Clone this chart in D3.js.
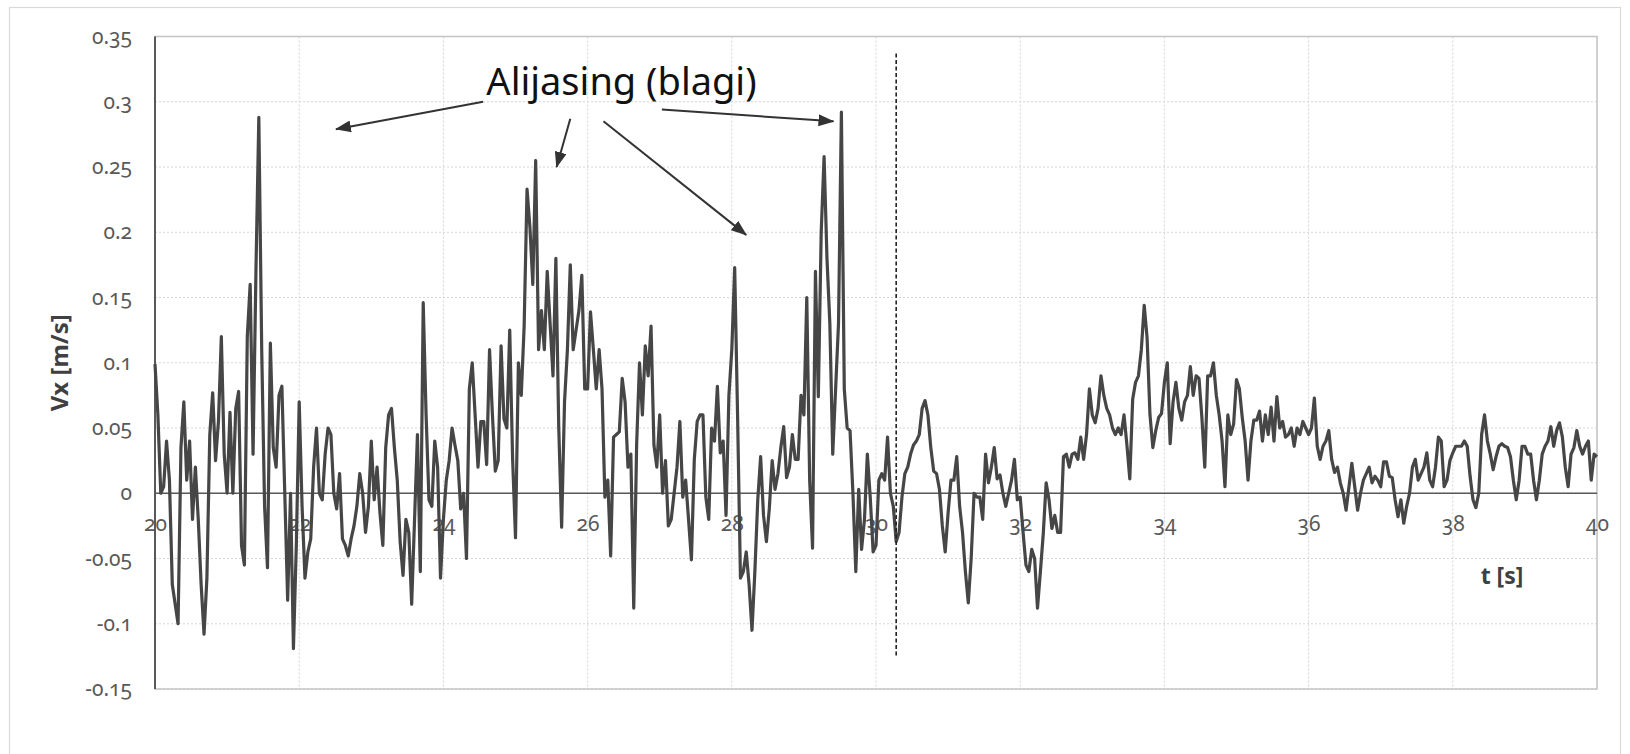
<!DOCTYPE html>
<html>
<head>
<meta charset="utf-8">
<script src="https://cdn.jsdelivr.net/npm/d3@7"></script>
<style>
  html, body { margin: 0; padding: 0; background: #fff; }
  svg text { font-family: "Noto Sans", "Open Sans", sans-serif; }
  .tick text { font-feature-settings: "onum"; }
</style>
</head>
<body>
<div id="chart"></div>
<script>
// sample step of the velocity record [s]
const dt = 0.04;

// Vx [m/s], one array per 2 s window
const vx20 = [0.099, 0.06, 0.0, 0.005, 0.04, 0.01, -0.07, -0.085, -0.1, 0.035,
  0.07, 0.01, 0.04, -0.02, 0.02, -0.02, -0.07, -0.108, -0.065, 0.045,
  0.077, 0.025, 0.055, 0.12, 0.03, 0.0, 0.062, 0.0, 0.065, 0.078,
  -0.04, -0.055, 0.12, 0.16, 0.03, 0.17, 0.288, 0.11, -0.01, -0.057,
  0.115, 0.035, 0.02, 0.075, 0.082, 0.0, -0.082, 0.0, -0.119, -0.04];
const vx22 = [0.07, -0.01, -0.065, -0.045, -0.035, 0.02, 0.05, 0.0, -0.005, 0.03,
  0.05, 0.045, 0.0, -0.012, 0.015, -0.035, -0.04, -0.048, -0.035, -0.025,
  -0.01, 0.015, 0.0, -0.03, -0.01, 0.04, -0.005, 0.02, -0.015, -0.04,
  0.035, 0.06, 0.065, 0.035, 0.01, -0.037, -0.063, -0.02, -0.03, -0.085,
  -0.02, 0.045, -0.06, 0.146, 0.06, -0.005, -0.01, 0.04, 0.02, -0.065];
const vx24 = [-0.02, 0.01, 0.025, 0.05, 0.037, 0.025, -0.012, 0.0, -0.05, 0.08,
  0.1, 0.06, 0.02, 0.055, 0.055, 0.022, 0.11, 0.06, 0.017, 0.025,
  0.113, 0.057, 0.05, 0.125, 0.026, -0.034, 0.1, 0.075, 0.128, 0.233,
  0.204, 0.16, 0.255, 0.11, 0.14, 0.11, 0.17, 0.13, 0.09, 0.18,
  0.05, -0.026, 0.07, 0.11, 0.175, 0.11, 0.125, 0.14, 0.167, 0.08];
const vx26 = [0.08, 0.139, 0.11, 0.08, 0.11, 0.08, -0.003, 0.01, -0.048, 0.043,
  0.045, 0.047, 0.088, 0.07, 0.02, 0.03, -0.088, 0.037, 0.1, 0.06,
  0.113, 0.09, 0.128, 0.037, 0.02, 0.06, 0.0, 0.025, -0.025, -0.02,
  0.0, 0.02, 0.055, -0.003, 0.01, -0.02, -0.051, 0.026, 0.055, 0.06,
  0.06, -0.003, -0.02, 0.05, 0.04, 0.082, 0.031, 0.04, -0.017, 0.075];
const vx28 = [0.11, 0.173, 0.06, -0.065, -0.06, -0.045, -0.07, -0.105, -0.06, -0.005,
  0.028, -0.017, -0.037, -0.012, 0.025, 0.003, 0.015, 0.035, 0.051, 0.012,
  0.02, 0.045, 0.026, 0.026, 0.075, 0.06, 0.15, 0.01, -0.042, 0.17,
  0.074, 0.2, 0.258, 0.18, 0.13, 0.03, 0.08, 0.13, 0.292, 0.08,
  0.05, 0.048, 0.0, -0.06, 0.003, -0.043, -0.02, 0.03, -0.003, -0.045];
const vx30 = [-0.04, 0.01, 0.015, 0.01, 0.043, 0.0, -0.01, -0.037, -0.03, -0.003,
  0.015, 0.02, 0.03, 0.037, 0.04, 0.045, 0.065, 0.071, 0.06, 0.035,
  0.017, 0.015, 0.003, -0.025, -0.045, -0.015, 0.01, 0.01, 0.028, -0.01,
  -0.03, -0.06, -0.084, -0.05, 0.0, -0.003, -0.003, -0.02, 0.03, 0.008,
  0.02, 0.035, 0.011, 0.014, 0.0, -0.01, 0.0, 0.01, 0.026, -0.005];
const vx32 = [-0.003, -0.03, -0.055, -0.06, -0.043, -0.05, -0.088, -0.06, -0.031, 0.008,
  -0.005, -0.027, -0.017, -0.03, -0.03, 0.028, 0.03, 0.02, 0.03, 0.031,
  0.026, 0.043, 0.026, 0.045, 0.08, 0.06, 0.054, 0.065, 0.09, 0.075,
  0.065, 0.06, 0.05, 0.045, 0.05, 0.045, 0.06, 0.037, 0.011, 0.072,
  0.085, 0.09, 0.11, 0.144, 0.119, 0.06, 0.035, 0.048, 0.058, 0.061];
const vx34 = [0.085, 0.1, 0.038, 0.07, 0.085, 0.065, 0.056, 0.07, 0.075, 0.097,
  0.075, 0.09, 0.088, 0.058, 0.02, 0.09, 0.09, 0.1, 0.075, 0.06,
  0.04, 0.005, 0.06, 0.045, 0.053, 0.087, 0.08, 0.058, 0.04, 0.01,
  0.04, 0.056, 0.056, 0.063, 0.04, 0.06, 0.045, 0.066, 0.04, 0.074,
  0.05, 0.055, 0.043, 0.045, 0.05, 0.036, 0.05, 0.045, 0.055, 0.05];
const vx36 = [0.045, 0.05, 0.073, 0.036, 0.026, 0.036, 0.04, 0.048, 0.026, 0.016,
  0.02, 0.008, 0.0, -0.013, 0.005, 0.023, 0.005, -0.013, 0.0, 0.01,
  0.015, 0.02, 0.008, 0.013, 0.01, 0.005, 0.024, 0.024, 0.013, 0.012,
  -0.005, -0.018, -0.005, -0.023, -0.01, 0.0, 0.02, 0.026, 0.01, 0.015,
  0.02, 0.031, 0.01, 0.005, 0.02, 0.043, 0.04, 0.005, 0.01, 0.025];
const vx38 = [0.031, 0.036, 0.036, 0.036, 0.04, 0.036, 0.013, -0.005, -0.011, 0.0,
  0.045, 0.06, 0.04, 0.03, 0.018, 0.028, 0.036, 0.038, 0.036, 0.035,
  0.028, 0.01, -0.005, 0.01, 0.036, 0.036, 0.03, 0.03, 0.01, -0.005,
  0.01, 0.03, 0.036, 0.04, 0.051, 0.036, 0.048, 0.054, 0.043, 0.02,
  0.005, 0.03, 0.035, 0.048, 0.036, 0.03, 0.036, 0.04, 0.01, 0.03, 0.028];

const windows = [
  { start: 20, values: vx20 }, { start: 22, values: vx22 }, { start: 24, values: vx24 },
  { start: 26, values: vx26 }, { start: 28, values: vx28 }, { start: 30, values: vx30 },
  { start: 32, values: vx32 }, { start: 34, values: vx34 }, { start: 36, values: vx36 },
  { start: 38, values: vx38 }
];

const xTicks = [20, 22, 24, 26, 28, 30, 32, 34, 36, 38, 40];
const yTicks = [-0.15, -0.1, -0.05, 0, 0.05, 0.1, 0.15, 0.2, 0.25, 0.3, 0.35];

// annotation: label and arrows [t, v] -> [t, v]
const noteText = 'Alijasing (blagi)';
const notePos = [26.47, 0.305];
const noteArrows = [
  [[24.55, 0.300], [22.51, 0.279]],
  [[25.76, 0.287], [25.57, 0.250]],
  [[26.22, 0.285], [28.20, 0.198]],
  [[27.03, 0.294], [29.41, 0.285]]
];
const markerT = 30.28;
const markerRange = [-0.125, 0.337];

const series = windows.flatMap(w => w.values.map((v, i) => ({ t: w.start + i * dt, v })));

const W = 1630, H = 754;
const margin = { top: 36.5, right: 33, bottom: 65, left: 155 };

const svg = d3.select('#chart').append('svg')
  .attr('width', W)
  .attr('height', H);

svg.append('rect').attr('width', W).attr('height', H).attr('fill', '#fff');

// chart area border
svg.append('rect')
  .attr('x', 9.5).attr('y', 7.5)
  .attr('width', 1611).attr('height', 780)
  .attr('fill', 'none')
  .attr('stroke', '#d9d9d9')
  .attr('stroke-width', 1.2);

const x = d3.scaleLinear().domain([20, 40]).range([margin.left, W - margin.right]);
const y = d3.scaleLinear().domain([-0.15, 0.35]).range([H - margin.bottom, margin.top]);

// gridlines
svg.append('g')
  .selectAll('line.hgrid')
  .data(yTicks)
  .enter().append('line')
  .attr('x1', x(20)).attr('x2', x(40))
  .attr('y1', d => y(d)).attr('y2', d => y(d))
  .attr('stroke', '#d4d4d4')
  .attr('stroke-width', 1)
  .attr('stroke-dasharray', '2,2');

svg.append('g')
  .selectAll('line.vgrid')
  .data(xTicks)
  .enter().append('line')
  .attr('x1', d => x(d)).attr('x2', d => x(d))
  .attr('y1', y(0.35)).attr('y2', y(-0.15))
  .attr('stroke', '#d4d4d4')
  .attr('stroke-width', 1)
  .attr('stroke-dasharray', '2,2');

// plot area border
svg.append('rect')
  .attr('x', x(20)).attr('y', y(0.35))
  .attr('width', x(40) - x(20)).attr('height', y(-0.15) - y(0.35))
  .attr('fill', 'none')
  .attr('stroke', '#c4c4c4')
  .attr('stroke-width', 1.5);

// Y axis
const yAxis = svg.append('g')
  .attr('transform', `translate(${x(20)},0)`)
  .call(d3.axisLeft(y).tickValues(yTicks).tickSize(0).tickPadding(23).tickFormat(d => String(d)));
yAxis.select('.domain').remove();
yAxis.selectAll('text')
  .style('font-size', '21px')
  .attr('fill', '#595959');

svg.append('line')
  .attr('x1', x(20)).attr('x2', x(20))
  .attr('y1', y(0.35)).attr('y2', y(-0.15))
  .attr('stroke', '#595959')
  .attr('stroke-width', 2);

// X axis labels hang under the zero line
const xAxis = svg.append('g')
  .attr('transform', `translate(0,${y(0)})`)
  .call(d3.axisBottom(x).tickValues(xTicks).tickSize(0).tickPadding(23).tickFormat(d => String(d)));
xAxis.select('.domain').remove();
xAxis.selectAll('text')
  .style('font-size', '21px')
  .attr('fill', '#595959');

svg.append('line')
  .attr('x1', x(20)).attr('x2', x(40))
  .attr('y1', y(0)).attr('y2', y(0))
  .attr('stroke', '#595959')
  .attr('stroke-width', 1.6);

// data line
const line = d3.line()
  .x(d => x(d.t))
  .y(d => y(d.v));

svg.append('path')
  .datum(series)
  .attr('d', line)
  .attr('fill', 'none')
  .attr('stroke', '#464646')
  .attr('stroke-width', 3.2)
  .attr('stroke-linejoin', 'round');

// dashed marker
svg.append('line')
  .attr('x1', x(markerT)).attr('x2', x(markerT))
  .attr('y1', y(markerRange[1])).attr('y2', y(markerRange[0]))
  .attr('stroke', '#222')
  .attr('stroke-width', 1.6)
  .attr('stroke-dasharray', '4,2.5');

// axis titles
svg.append('text')
  .attr('transform', `translate(68,${(y(0.35) + y(-0.15)) / 2}) rotate(-90)`)
  .attr('text-anchor', 'middle')
  .style('font-size', '24px')
  .style('font-weight', 'bold')
  .attr('fill', '#404040')
  .text('Vx [m/s]');

svg.append('text')
  .attr('x', 1502)
  .attr('y', 584)
  .attr('text-anchor', 'middle')
  .style('font-size', '23px')
  .style('font-weight', 'bold')
  .attr('fill', '#404040')
  .text('t [s]');

// annotation
const defs = svg.append('defs');
defs.append('marker')
  .attr('id', 'arrow')
  .attr('viewBox', '0 0 16 12')
  .attr('refX', 15).attr('refY', 6)
  .attr('markerWidth', 16).attr('markerHeight', 12)
  .attr('markerUnits', 'userSpaceOnUse')
  .attr('orient', 'auto')
  .append('path')
  .attr('d', 'M0,0 L16,6 L0,12 Z')
  .attr('fill', '#333');

svg.append('g')
  .selectAll('line')
  .data(noteArrows)
  .enter().append('line')
  .attr('x1', d => x(d[0][0])).attr('y1', d => y(d[0][1]))
  .attr('x2', d => x(d[1][0])).attr('y2', d => y(d[1][1]))
  .attr('stroke', '#333')
  .attr('stroke-width', 2)
  .attr('marker-end', 'url(#arrow)');

svg.append('text')
  .attr('x', x(notePos[0]))
  .attr('y', y(notePos[1]))
  .attr('text-anchor', 'middle')
  .style('font-size', '38px')
  .attr('fill', '#111')
  .text(noteText);
</script>
</body>
</html>
